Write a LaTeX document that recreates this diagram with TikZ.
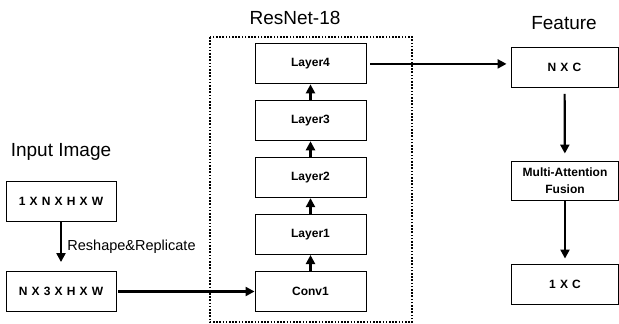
\documentclass[tikz,border=0pt]{standalone}
\usepackage{fontspec}
\setmainfont{Liberation Sans}
\newfontfamily\boxfont[WordSpace=1.25]{Liberation Sans}
\usetikzlibrary{arrows.meta,positioning}

\begin{document}
\begin{tikzpicture}[x=1pt, y=-1pt,
  box/.style = {draw, line width=.9pt, minimum width=111pt, minimum height=40pt, inner sep=0pt, align=center, font=\boxfont\bfseries\fontsize{12}{16.5}\selectfont},
  arr/.style = {-{Triangle[length=9pt, width=9pt]}, line width=2.2pt},
  title/.style = {font=\fontsize{19}{22}\selectfont}]

            \useasboundingbox (0,0) rectangle (619,324);
            \draw [line width=2pt, dash pattern=on 1.6pt off 1.6pt] (210,37) rectangle (412,322);

            \node [title] (in) at (61,152) {Input Image};
            \node [title] (res) at (295,18) {ResNet-18};
            \node [title] (feat) at (564,23) {Feature};

            \node [box, minimum width=110pt] (img) at (61,201.5) {1 X N X H X W};
            \node [box, minimum width=110pt] (rep) at (61,291.5) {N X 3 X H X W};

            \node [box] (conv) at (310.5,291.5) {Conv1};
            \node [box, above=16pt of conv] (l1) {Layer1};
            \node [box, above=16pt of l1] (l2) {Layer2};
            \node [box, above=16pt of l2] (l3) {Layer3};
            \node [box, above=16pt of l3] (l4) {Layer4};

            \node [box, minimum width=107pt] (nc) at (564.5,67.5) {N X C};
            \node [box, minimum width=107pt, minimum height=39pt] (maf) at (565,180.5) {Multi-Attention\\Fusion};
            \node [box, minimum width=107pt] (oc) at (565,284) {1 X C};

            \draw [arr, shorten >=9pt] (img) -- node [right, xshift=2pt, font=\fontsize{14.5}{16}\selectfont] {Reshape\&Replicate} (rep);
            \draw [arr, shorten <=2pt] (rep) -- (conv);
            \foreach \a/\b in {conv/l1, l1/l2, l2/l3, l3/l4} {
              \draw [arr] (\a) -- (\b);
            }
            \draw [arr, shorten <=4pt, shorten >=4pt] (l4.east) -- (l4.east -| nc.west);
            \draw [arr, shorten <=6pt, shorten >=7pt] (nc) -- (maf);
            \draw [arr, shorten >=5pt] (maf) -- (oc);
            \end{tikzpicture}
\end{document}
